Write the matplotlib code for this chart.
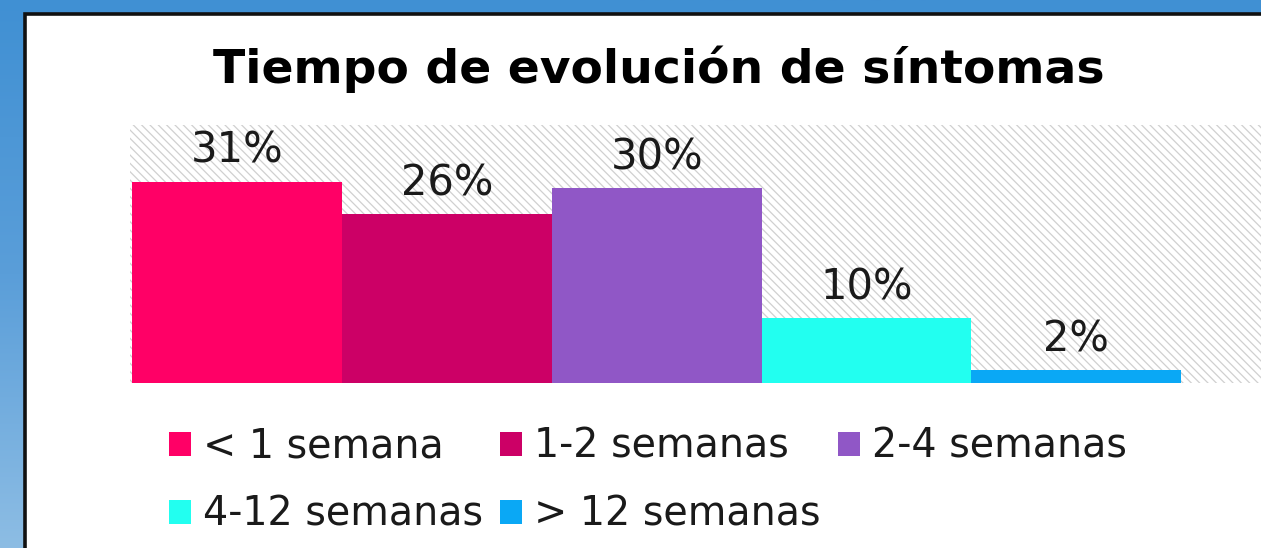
import matplotlib
matplotlib.use("Agg")
import matplotlib.pyplot as plt
import numpy as np
from matplotlib.patches import Rectangle
from matplotlib.colors import LinearSegmentedColormap

# ---- data ----
title = "Tiempo de evolución de síntomas"
categories = ["< 1 semana", "1-2 semanas", "2-4 semanas", "4-12 semanas", "> 12 semanas"]
values = [31, 26, 30, 10, 2]
colors = ["#ff0066", "#cc0066", "#9057c6", "#22fff0", "#0aa8f5"]

W, H, DPI = 1261, 548, 100
plt.rcParams["font.family"] = ["DejaVu Sans"]
plt.rcParams["hatch.linewidth"] = 0.9

fig = plt.figure(figsize=(W / DPI, H / DPI), dpi=DPI)

# ---- background (blue frame + white chart box) ----
bg = fig.add_axes([0, 0, 1, 1], zorder=-10)
bg.set_xlim(0, W)
bg.set_ylim(H, 0)
bg.axis("off")
cmap = LinearSegmentedColormap.from_list("bl", ["#4090d3", "#5a9ed9", "#8dbde4"])
grad = np.linspace(0, 1, 256).reshape(-1, 1)
bg.imshow(grad, cmap=cmap, extent=(0, W, H, 0), aspect="auto", zorder=0)
bg.add_patch(Rectangle((24.5, 13.5), W + 20, H + 20, facecolor="white",
                       edgecolor="#111111", lw=2.6, zorder=1))

# ---- plot area ----
left_px, right_px, top_px, base_px = 130, W, 125, 383
ax = fig.add_axes([left_px / W, (H - base_px) / H, (right_px - left_px) / W,
                   (base_px - top_px) / H])
ax.set_facecolor("white")
ax.add_patch(Rectangle((0, 0), 1, 1, transform=ax.transAxes, facecolor="white",
                       edgecolor="#d0d0d0", hatch="\\\\\\\\", lw=0, zorder=0))

x = np.arange(len(values))
bars = ax.bar(x, values, width=1.0, align="edge", color=colors, lw=0, zorder=2)
ax.set_xlim(-0.01, 5.38)
ax.set_ylim(0, 39.7)
for s in ax.spines.values():
    s.set_visible(False)
ax.set_xticks([])
ax.set_yticks([])

for xi, v in zip(x, values):
    ax.annotate(f"{v}%", (xi + 0.5, v), xytext=(0, 7), textcoords="offset points",
                ha="center", va="bottom", fontsize=30, color="#1a1a1a", zorder=3)

# ---- title ----
fig.text(658.5 / W, 1 - 83 / H, title, ha="center", va="baseline",
         fontsize=34, fontweight="bold", color="black")

# ---- legend (row-wise order emulated) ----
order = [0, 3, 1, 4, 2]
handles = [bars[i] for i in order]
labels = [categories[i] for i in order]
leg = fig.legend(handles, labels, loc="upper left",
                 bbox_to_anchor=(169 / W, 1 - 427 / H), ncol=3, frameon=False,
                 fontsize=28.5, handlelength=0.55, handleheight=0.55,
                 handletextpad=0.3, columnspacing=0.45, labelspacing=0.70,
                 borderpad=0, borderaxespad=0)
for t in leg.get_texts():
    t.set_color("#1a1a1a")

fig.savefig("out.png", dpi=DPI)
